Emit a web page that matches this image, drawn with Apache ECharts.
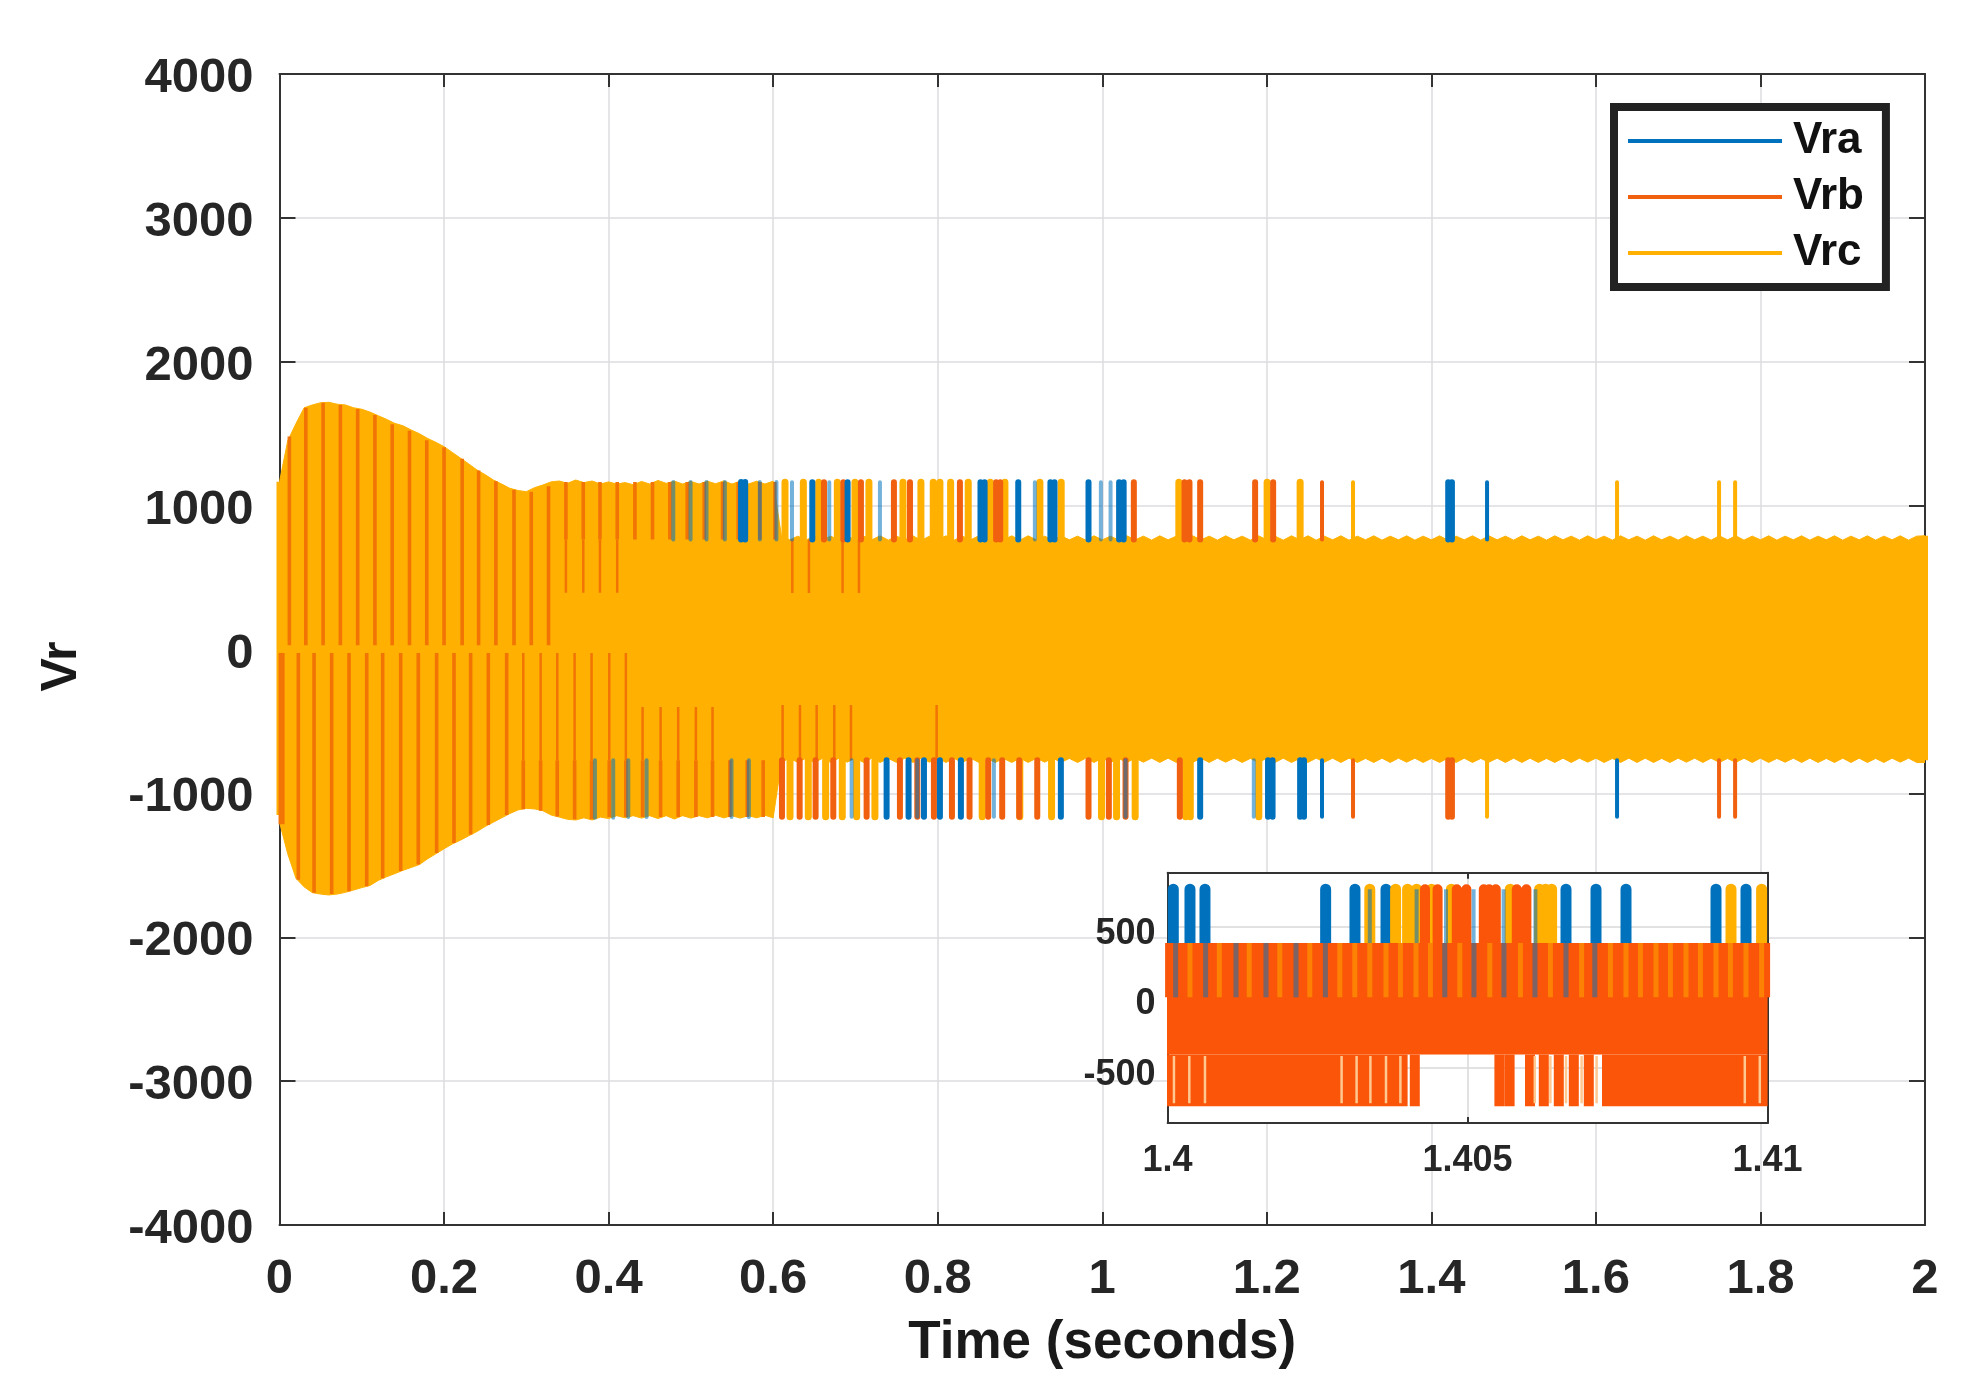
<!DOCTYPE html>
<html><head><meta charset="utf-8">
<style>html,body{margin:0;padding:0;background:#fff}#c{width:1968px;height:1389px}</style>
<script src="https://cdn.jsdelivr.net/npm/echarts@6/dist/echarts.min.js"></script>
</head><body><div id="c"></div>
<script>
const xTicks=[0,0.2,0.4,0.6,0.8,1,1.2,1.4,1.6,1.8,2];
const yTicks=[-4000,-3000,-2000,-1000,0,1000,2000,3000,4000];
const seriesNames=['Vra','Vrb','Vrc'];
const colVra='#0072BD',colVrb='#F0600F',colVrc='#FFB000',colStripe='#F27405';

// Outer edge of the Vrc band, one reading every 0.01 s from t=0
const bandStep=0.01;
const vrcUpper=[
1166,1450,1570,1680,1700,1715,1718,1705,1700,1680,
1670,1650,1625,1600,1572,1555,1526,1500,1467,1440,
1410,1370,1330,1290,1248,1215,1178,1150,1120,1105,
1097,1125,1143,1165,1171,1155,1178,1160,1171,1150,
1165,1150,1160,1145,1168,1150,1175,1155,1170,1150,
1168,1150,1170,1152,1172,1150,1170,1150,1170,1150,
1170,790,762,788,760,790,762,788,760,790,
760,788,762,790,760,788,762,790,758,788,
762,790,760,788,762,790,760,788,762,790,
760,790,762,788,760,790,762,788,760,790,
762,788,760,790,762,788,760,790,762,788,
760,790,762,788,760,790,762,788,760,790,
762,788,760,790,762,790,760,788,762,790,
760,788,762,790,760,788,762,790,760,788,
762,790,760,788,762,790,760,790,762,788,
760,790,762,788,760,790,762,788,760,790,
762,788,760,790,762,788,760,790,762,788,
760,790,762,788,760,790,762,790,760,788,
762,790,760,788,762,790,760,788,762,790,
760,788,762,790,760,788,762,790,760,788,
790];
const vrcLower=[
-1200,-1420,-1590,-1650,-1690,-1700,-1706,-1700,-1688,-1672,
-1655,-1640,-1605,-1580,-1558,-1535,-1515,-1495,-1455,-1420,
-1385,-1352,-1325,-1295,-1265,-1230,-1200,-1170,-1140,-1115,
-1104,-1108,-1120,-1150,-1165,-1180,-1185,-1170,-1185,-1165,
-1175,-1155,-1170,-1155,-1172,-1155,-1175,-1155,-1178,-1155,
-1172,-1155,-1170,-1152,-1170,-1155,-1172,-1155,-1170,-1152,
-1170,-785,-755,-785,-755,-785,-757,-785,-755,-783,
-755,-785,-755,-785,-757,-785,-755,-785,-755,-783,
-755,-785,-757,-785,-755,-785,-755,-785,-757,-785,
-755,-785,-755,-783,-755,-785,-757,-785,-755,-785,
-755,-785,-757,-785,-755,-783,-755,-785,-755,-785,
-757,-785,-755,-785,-755,-783,-755,-785,-757,-785,
-755,-785,-755,-785,-757,-785,-755,-783,-755,-785,
-755,-785,-757,-785,-755,-785,-755,-783,-755,-785,
-757,-785,-755,-785,-755,-785,-757,-783,-755,-785,
-755,-785,-755,-785,-757,-785,-755,-785,-755,-783,
-755,-785,-757,-785,-755,-785,-755,-785,-757,-785,
-755,-783,-755,-785,-755,-785,-757,-785,-755,-785,
-755,-785,-757,-783,-755,-785,-755,-785,-757,-785,
-755,-785,-755,-785,-757,-785,-755,-783,-755,-785,
-785];

// Spikes that stand clear of the band, [time] between band edge and peak
const spikeBaseUp=765,spikePeakUp=1162,spikeBaseDn=-770,spikePeakDn=-1162;
const vrcUp=[0.6144,0.6367,0.6553,0.678,0.6994,0.7164,0.7578,0.7796,0.7946,0.8027,0.8157,0.8371,0.8639,0.8817,0.9242,0.9501,1.0931,1.2004,1.2405];
const vrbUp=[0.6618,0.6853,0.7067,0.7468,0.7663,0.827,0.871,0.876,1.0384,1.1,1.106,1.119,1.1858,1.2077];
const vraUp=[0.6476,0.6905,0.852,0.857,0.8979,0.937,0.942,0.9833,1.0205,1.026,1.4205,1.425];
const vraSoftUp=[0.6229,0.6682,0.7298,0.9181,0.9983,1.0101];
const vrcDn=[0.6205,0.6427,0.6638,0.684,0.7015,0.7237,0.8541,0.8998,0.9384,0.9991,1.0174,1.04,1.1015,1.107,1.1903];
const vrbDn=[0.6107,0.6322,0.6516,0.6731,0.7136,0.7541,0.7752,0.7954,0.8173,0.8387,0.8614,0.8784,0.8991,0.921,0.9833,1.008,1.0283,1.0943,1.4205,1.425];
const vraDn=[0.7379,0.7646,0.7833,0.8027,0.8282,0.9497,1.119,1.2015,1.207,1.2405,1.2452];
const vraSoftDn=[0.6954,0.8683,1.1842,1.0283,0.7752];
// Thinner late spikes
const vrcUpLate=[1.3048,1.6257,1.7497,1.7692];
const vrbUpLate=[1.2671];
const vraUpLate=[1.4677];
const vrcDnLate=[1.4677];
const vrbDnLate=[1.3048,1.7497,1.7692];
const vraDnLate=[1.2671,1.6257];

// Stripes inside the band, [time, low, high]
const vrbThin=[
[0.3481,395,765],[0.3692,395,765],[0.3895,395,765],[0.4105,395,765],
[0.6233,393,765],[0.6435,393,765],[0.6844,393,765],[0.7043,393,765],
[0.2963,-25,-770],[0.3174,-25,-770],[0.3376,-25,-770],[0.3587,-25,-770],[0.3793,-25,-770],[0.4008,-25,-770],[0.421,-25,-770],
[0.4413,-400,-770],[0.4632,-400,-770],[0.4846,-400,-770],[0.5061,-400,-770],[0.5263,-400,-770],
[0.6115,-386,-770],[0.6326,-386,-770],[0.6529,-386,-770],[0.6743,-386,-770],[0.6946,-386,-770],[0.7987,-386,-770]
];
const vrbWide=[
[0.012,30,1480],[0.032,30,1680],[0.053,30,1715],[0.074,30,1700],[0.095,30,1672],[0.116,30,1630],[0.137,30,1565],[0.158,30,1520],
[0.179,30,1455],[0.2,30,1405],[0.222,30,1325],[0.242,30,1245],[0.263,30,1170],[0.285,30,1110],[0.306,30,1097],[0.327,30,1135],
[0.0229,-25,-1600],[0.042,-25,-1690],[0.0634,-25,-1700],[0.0845,-25,-1680],[0.106,-25,-1645],[0.1254,-25,-1590],[0.1473,-25,-1540],
[0.1687,-25,-1495],[0.191,-25,-1415],[0.2121,-25,-1345],[0.2323,-25,-1285],[0.2538,-25,-1220],[0.2761,-25,-1150],
[0.3481,765,1165],[0.3692,765,1165],[0.3895,765,1165],[0.4105,765,1165],
[0.432,765,1165],[0.4534,765,1165],[0.4745,765,1165],[0.4956,765,1165],[0.5162,765,1165],[0.5385,765,1165],[0.5575,765,1165],[0.5838,765,1165],[0.6021,765,1165],
[0.001,-25,-1215],[0.004,-25,-1215],
[0.2963,-770,-1110],[0.3174,-770,-1120],[0.3376,-770,-1160],[0.3587,-770,-1180],[0.3793,-770,-1180],[0.4008,-770,-1165],[0.421,-770,-1165],
[0.4413,-770,-1165],[0.4632,-770,-1165],[0.4846,-770,-1165],[0.5061,-770,-1165],[0.5263,-770,-1165],[0.5474,-770,-1165],[0.5685,-770,-1165],[0.5879,-770,-1165],[0.6102,-770,-1165]
];
const vraSoftBand=[[0.4786,765,1165],[0.4996,765,1165],[0.519,765,1165],[0.5413,765,1165],[0.5838,765,1165],[0.604,765,1165],
[0.3834,-770,-1170],[0.4056,-770,-1170],[0.4239,-770,-1165],[0.4462,-770,-1165],[0.5494,-770,-1165],[0.5705,-770,-1165]];
const vraBand=[[0.561,765,1165],[0.566,765,1165]];
const vrcEdges=[[0,-1150,1166],[2,-770,790]];
const vrcCentre=[[0,0],[2,0]];

// Inset, times in ms after 1.4 s
const insetX=[1.4,1.405,1.41];
const insetY=[-500,0,500];
const lvTop=765,lvMid=385,lvLow=-405,lvBot=-770;
const inVrbFull=[0.12,0.37,0.62,0.87,1.12,1.37,1.62,1.87,2.12,2.37,2.62,2.87,3.12,3.37,3.62,3.87,4.12,4.37,4.62,4.87,5.12,5.37,5.62,5.87,6.12,6.37,6.62,6.87,7.12,7.37,7.62,7.87,8.12,8.37,8.62,8.87,9.12,9.37,9.62,9.87];
const inVrbLowWide=[0.12,0.37,0.62,0.87,1.12,1.37,1.62,1.87,2.12,2.37,2.62,2.87,3.12,3.37,3.62,3.87,7.37,7.62,7.87,8.12,8.37,8.62,8.87,9.12,9.37,9.62,9.87];
const inVrbLowNarrow=[4.12,5.53,5.7,6.04,6.27,6.52,6.77,7.02];
const inVrbTopNarrow=[4.29,4.5,4.82,4.98,5.27,5.36,5.47,5.82,5.98];
const inVraTop=[0.095,0.373,0.623,2.634,3.123,3.64,6.64,7.14,7.64,9.14,9.64];
const inVrcTop=[3.37,3.8,4.0,4.15,4.4,4.73,5.71,6.2,6.3,6.4,9.39,9.9];
const inVraSoftTop=[3.37,4.15,4.64,5.1,5.6,6.13];
const inVraSoftMid=[0.134,0.634,1.14,1.64,2.14,2.63,4.62,5.106,5.606,6.123,6.64,7.12];
const inVrcSoftMid=[0.373,0.862,1.36,1.87,2.37,2.87,3.12,3.37,3.64,3.88,4.14,4.38,4.87,5.37,5.88,6.38,6.9,7.38,7.64,7.88,8.14,8.38,8.64,8.88,9.14,9.38,9.64,9.9];
const inVrcPaleLow=[0.106,0.362,0.623,2.9,3.15,3.38,3.64,3.88,6.12,6.38,6.64,6.9,7.15,9.62,9.87];
const inVrbEdges=[[0,0,385],[10,0,385]];

const seg=(list,lo,hi)=>list.flatMap(t=>[[t,lo],[t,hi],[t,null]]);
const seg3=list=>list.flatMap(([t,lo,hi])=>[[t,lo],[t,hi],[t,null]]);
const ms=t=>1.4+t/1000;
const iseg=(list,lo,hi)=>seg(list.map(ms),lo,hi);

const font='"Liberation Sans",Arial,sans-serif', ink='#262626';

function line(name,color,data,width,z,extra){
  return Object.assign({type:'line',name,data,showSymbol:false,symbol:'none',clip:false,animation:false,silent:true,
    z,itemStyle:{color},
    lineStyle:Object.assign({color,width,cap:'butt',join:'miter'},(extra&&extra.ls)||{}),
    xAxisIndex:(extra&&extra.inset)?1:0,yAxisIndex:(extra&&extra.inset)?1:0},
    (extra&&extra.area)?{areaStyle:{color,opacity:1,origin:0}}:{});
}
const rnd={ls:{cap:'round'}}, ins={inset:true}, insR={inset:true,ls:{cap:'round'}};
const series=[
  line('Vra',colVra,[],1,1),
  line('Vrb',colVrb,[],1,1),
  line('Vrc',colVrc,vrcUpper.map((v,i)=>[+(i*bandStep).toFixed(2),v]),1,2,{area:true}),
  line('Vrc',colVrc,vrcLower.map((v,i)=>[+(i*bandStep).toFixed(2),v]),1,2,{area:true}),
  line('Vrc',colVrc,vrcCentre,4,2),
  line('Vrc',colVrc,seg3(vrcEdges),6,2),
  line('Vrc',colVrc,seg(vrcUp,spikeBaseUp,spikePeakUp).concat(seg(vrcDn,spikeBaseDn,spikePeakDn)),7,3,rnd),
  line('Vrc',colVrc,seg(vrcUpLate,spikeBaseUp,spikePeakUp).concat(seg(vrcDnLate,spikeBaseDn,spikePeakDn)),4,3,rnd),
  line('Vrb',colStripe,seg3(vrbThin),2.5,4),
  line('Vrb',colStripe,seg3(vrbWide),3.6,4),
  line('Vrb',colVrb,seg(vrbUp,spikeBaseUp,spikePeakUp).concat(seg(vrbDn,spikeBaseDn,spikePeakDn)),6,5,rnd),
  line('Vrb',colVrb,seg(vrbUpLate,spikeBaseUp,spikePeakUp).concat(seg(vrbDnLate,spikeBaseDn,spikePeakDn)),4,5,rnd),
  line('Vra',colVra,seg(vraUp,spikeBaseUp,spikePeakUp).concat(seg(vraDn,spikeBaseDn,spikePeakDn)).concat(seg3(vraBand)),6,6,rnd),
  line('Vra',colVra,seg(vraUpLate,spikeBaseUp,spikePeakUp).concat(seg(vraDnLate,spikeBaseDn,spikePeakDn)),4,6,rnd),
  line('Vra',colVra,seg(vraSoftUp,spikeBaseUp,spikePeakUp).concat(seg(vraSoftDn,spikeBaseDn,spikePeakDn)).concat(seg3(vraSoftBand)),4,6,{ls:{cap:'round',opacity:0.55}}),
  // inset
  line('Vra',colVra,iseg(inVraTop,lvMid,lvTop),11,20,insR),
  line('Vrc',colVrc,iseg(inVrcTop,lvMid,lvTop),11,21,insR),
  line('Vrb','#FA5508',iseg(inVrbFull,lvLow,lvMid),15.6,22,ins),
  line('Vrb','#FA5508',iseg(inVrbLowWide,lvBot,lvLow),15.6,22,ins),
  line('Vrb','#FA5508',iseg(inVrbLowNarrow,lvBot,lvLow),10,22,ins),
  line('Vrb','#FA5508',iseg(inVrbTopNarrow,lvMid,lvTop),10,22,insR),
  line('Vrb','#FA5508',inVrbEdges.flatMap(([t,lo,hi])=>[[ms(t),lo],[ms(t),hi],[ms(t),null]]),5,22,ins),
  line('Vra',colVra,iseg(inVraSoftTop,lvMid,lvTop),4,23,{inset:true,ls:{opacity:0.55}}),
  line('Vra',colVra,iseg(inVraSoftMid,0,lvMid),5,23,{inset:true,ls:{opacity:0.5}}),
  line('Vrc',colVrc,iseg(inVrcSoftMid,0,lvMid),5,23,{inset:true,ls:{opacity:0.5}}),
  line('Vrc','#FFC890',iseg(inVrcPaleLow,lvBot+20,lvLow-10),2.5,23,ins)
];

const edge={show:true,onZero:false,lineStyle:{color:'#333',width:2}};
const axisBase=(gridIndex,extra)=>Object.assign({type:'value',gridIndex,axisLine:edge,z:gridIndex?4:1},extra);
const chart=echarts.init(document.getElementById('c'),null,{renderer:'canvas'});
chart.setOption({
  backgroundColor:'#ffffff',animation:false,
  textStyle:{fontFamily:font},
  grid:[
    {left:279.5,top:74,width:1645.5,height:1151,show:false},
    {left:1167.6,top:872.7,width:600,height:250.3,show:true,borderWidth:0,backgroundColor:'#fff',z:3}
  ],
  xAxis:[
    axisBase(0,{min:0,max:2,interval:0.2,name:'Time (seconds)',nameLocation:'middle',nameGap:92,
      nameTextStyle:{fontFamily:font,fontWeight:'bold',fontSize:53,color:'#1a1a1a'},
      axisLabel:{fontFamily:font,fontWeight:'bold',fontSize:49,color:ink,margin:30},
      axisTick:{show:true,inside:true,length:13,lineStyle:{color:'#333',width:2}},
      splitLine:{show:true,lineStyle:{color:'#DCDDDF',width:1.5}}}),
    axisBase(1,{min:1.4,max:1.41,interval:0.005,
      axisLabel:{fontFamily:font,fontWeight:'bold',fontSize:36,color:ink,margin:20,customValues:insetX,formatter:v=>String(+v.toFixed(3))},
      axisTick:{show:true,inside:true,length:6,lineStyle:{color:'#333',width:2}},
      splitLine:{show:true,lineStyle:{color:'#D8D8D8',width:1.5}}}),
    axisBase(0,{position:'top',min:0,max:2,interval:0.2,axisLabel:{show:false},
      axisTick:{show:true,inside:true,length:13,lineStyle:{color:'#333',width:2}},splitLine:{show:false}}),
    axisBase(1,{position:'top',min:1.4,max:1.41,interval:0.005,axisLabel:{show:false},
      axisTick:{show:true,inside:true,length:6,lineStyle:{color:'#333',width:2}},splitLine:{show:false}})
  ],
  yAxis:[
    axisBase(0,{min:-4000,max:4000,interval:1000,name:'Vr',nameLocation:'middle',nameGap:192,nameRotate:90,
      nameTextStyle:{fontFamily:font,fontWeight:'bold',fontSize:50,color:'#1a1a1a',padding:[0,34,0,0]},
      axisLabel:{fontFamily:font,fontWeight:'bold',fontSize:49,color:ink,margin:26,verticalAlign:'top',padding:[-20,0,0,0],formatter:v=>String(v)},
      axisTick:{show:true,inside:true,length:16,lineStyle:{color:'#333',width:2}},
      splitLine:{show:true,lineStyle:{color:'#DCDDDF',width:1.5}}}),
    axisBase(1,{min:-889,max:882,
      axisLabel:{fontFamily:font,fontWeight:'bold',fontSize:36,color:ink,margin:12,customValues:insetY,verticalAlign:'top',padding:[-11,0,0,0],formatter:v=>String(v)},
      axisTick:{show:true,inside:true,length:6,customValues:insetY,lineStyle:{color:'#333',width:2}},
      splitLine:{show:true,lineStyle:{color:'#D8D8D8',width:1.5}}}),
    axisBase(0,{position:'right',min:-4000,max:4000,interval:1000,axisLabel:{show:false},
      axisTick:{show:true,inside:true,length:16,lineStyle:{color:'#333',width:2}},splitLine:{show:false}}),
    axisBase(1,{position:'right',min:-889,max:882,axisLabel:{show:false},
      axisTick:{show:false},splitLine:{show:false}})
  ],
  legend:{show:true,data:seriesNames,orient:'vertical',left:1614,top:107,
    padding:[9.5,22,9.5,14],itemGap:7,itemWidth:154,itemHeight:4,icon:'rect',selectedMode:false,
    backgroundColor:'#fff',borderColor:'#222',borderWidth:8,borderRadius:0,z:30,
    textStyle:{fontFamily:font,fontWeight:'bold',fontSize:44,color:'#111',lineHeight:44,padding:[5,0,0,6]}},
  series
});
</script></body></html>
